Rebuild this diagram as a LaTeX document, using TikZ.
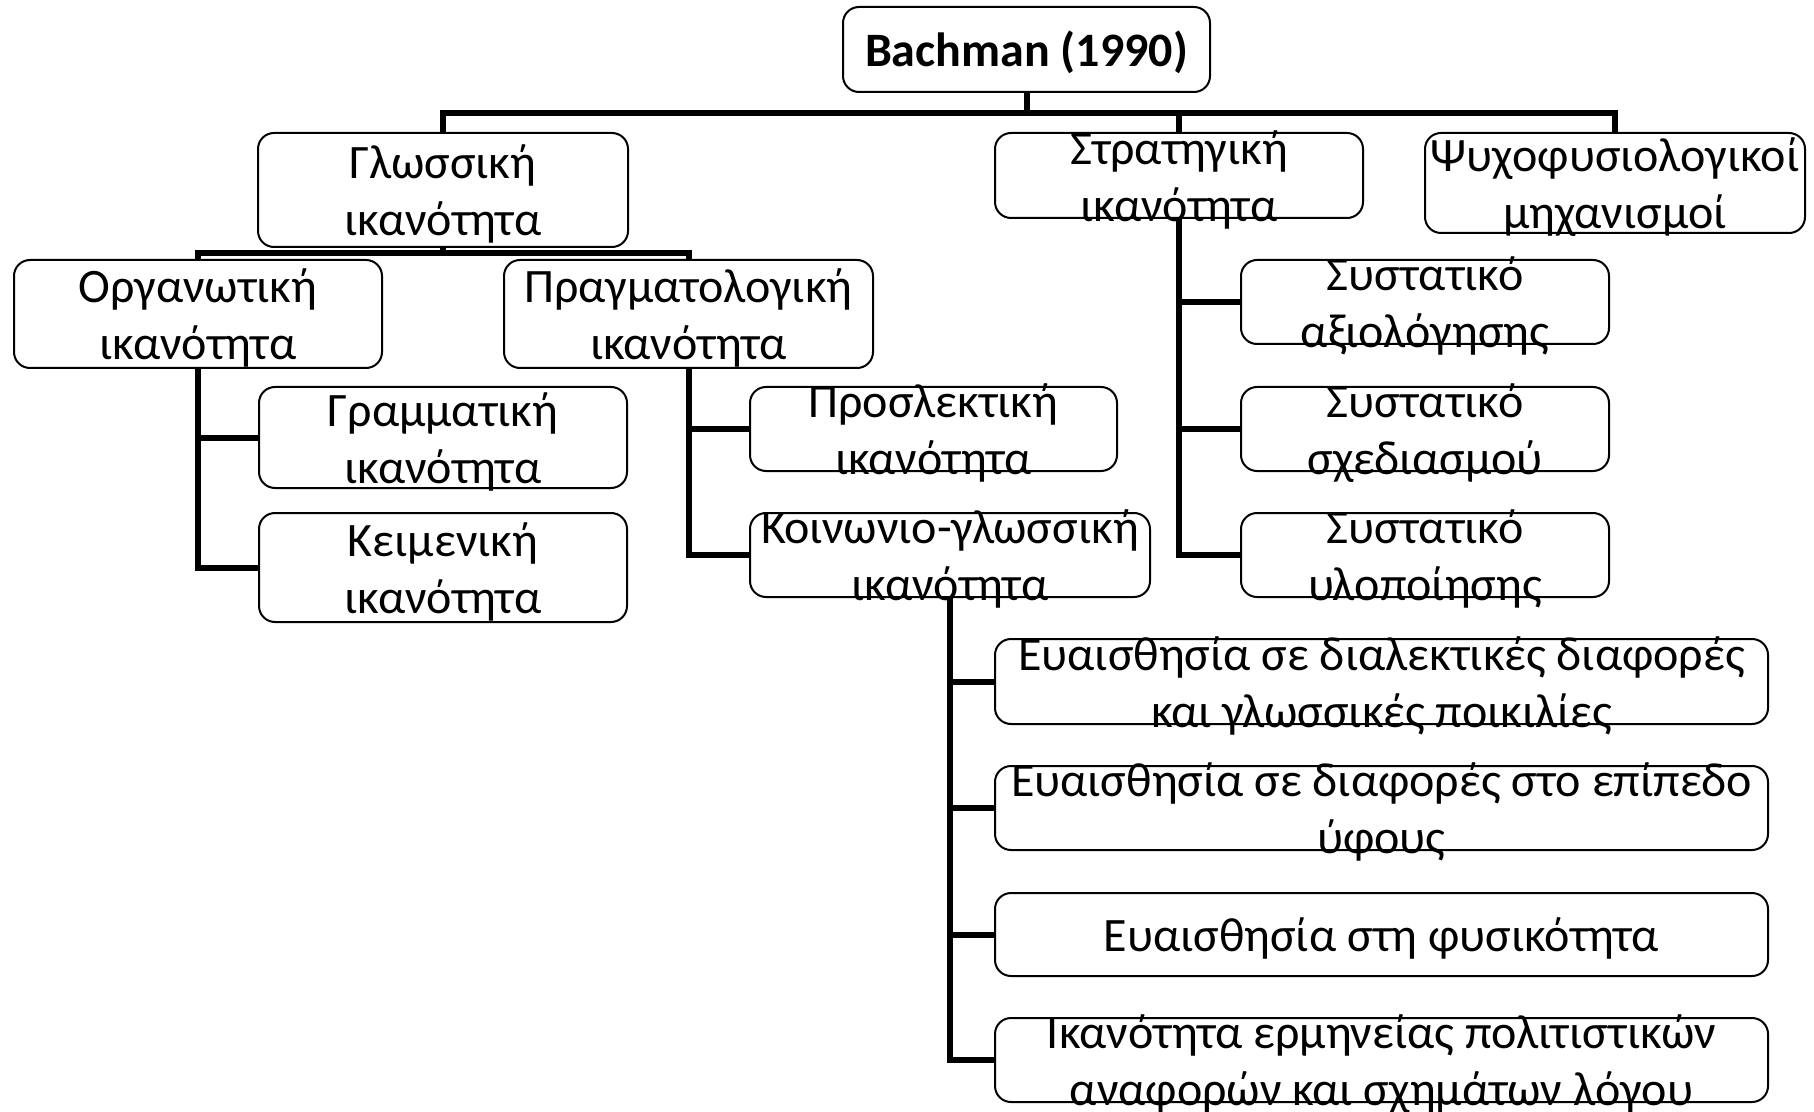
\documentclass[tikz,border=0pt]{standalone}
\usepackage{fontspec}
\setmainfont{Carlito}
\usetikzlibrary{fit}
\tikzset{
  x=0.5pt, y=-0.5pt,
  box/.style={draw, line width=1pt, rounded corners=8pt, fill=white,
    inner sep=0pt, outer sep=0pt},
  conn/.style={line width=3pt, line join=miter},
  lbl/.style={inner sep=0pt, align=center, yshift=-2.9pt},
  bodytxt/.style={lbl, font=\fontsize{24pt}{28.5pt}\selectfont},
  headtxt/.style={lbl, font=\bfseries\fontsize{24pt}{28.5pt}\selectfont},
}
\begin{document}
\begin{tikzpicture}
\useasboundingbox (0,0) rectangle (1814,1112);

% boxes
\node[box, fit={(843,7) (1210,92)}]     (bach) {};
\node[box, fit={(258,133) (628,247)}]   (glo)  {};
\node[box, fit={(995,133) (1363,218)}]  (str)  {};
\node[box, fit={(1425,133) (1805,233)}] (psy)  {};
\node[box, fit={(14,260) (382,368)}]    (org)  {};
\node[box, fit={(504,260) (873,368)}]   (prag) {};
\node[box, fit={(259,387) (627,488)}]   (gram) {};
\node[box, fit={(259,513) (627,622)}]   (keim) {};
\node[box, fit={(750,387) (1117,471)}]  (pros) {};
\node[box, fit={(750,513) (1150,597)}]  (koin) {};
\node[box, fit={(1241,260) (1609,344)}] (sys1) {};
\node[box, fit={(1241,387) (1609,471)}] (sys2) {};
\node[box, fit={(1241,513) (1609,597)}] (sys3) {};
\node[box, fit={(995,639) (1768,724)}]  (eua1) {};
\node[box, fit={(995,766) (1768,850)}]  (eua2) {};
\node[box, fit={(995,893) (1768,976)}]  (eua3) {};
\node[box, fit={(995,1018) (1768,1102)}] (eua4) {};

% connectors
\coordinate (bus1) at (1026.5,113);
\coordinate (bus2) at (443,253);
\draw[conn] (bach.south) -- (bus1);
\draw[conn] (glo.north) |- (bus1) -| (psy.north);
\draw[conn] (str.north) -- (str.north |- bus1);

\draw[conn] (glo.south) -- (bus2);
\draw[conn] (org.north) |- (bus2) -| (prag.north);

\draw[conn] (org.south) |- (keim.west);
\draw[conn] (org.south |- gram.west) -- (gram.west);

\draw[conn] (prag.south) |- (koin.west);
\draw[conn] (prag.south |- pros.west) -- (pros.west);

\draw[conn] (str.south) |- (sys3.west);
\draw[conn] (str.south |- sys1.west) -- (sys1.west);
\draw[conn] (str.south |- sys2.west) -- (sys2.west);

\draw[conn] (koin.south) |- (eua4.west);
\draw[conn] (koin.south |- eua1.west) -- (eua1.west);
\draw[conn] (koin.south |- eua2.west) -- (eua2.west);
\draw[conn] (koin.south |- eua3.west) -- (eua3.west);

% labels
\node[headtxt] (bach-t) at (bach) {\strut Bachman (1990)};
\node[bodytxt] (glo-t)  at (glo)  {\strut Γλωσσική\\\strut ικανότητα};
\node[bodytxt] (str-t)  at (str)  {\strut Στρατηγική\\\strut ικανότητα};
\node[bodytxt] (psy-t)  at (psy)  {\strut Ψυχοφυσιολογικοί\\\strut μηχανισμοί};
\node[bodytxt] (org-t)  at (org)  {\strut Οργανωτική\\\strut ικανότητα};
\node[bodytxt] (prag-t) at (prag) {\strut Πραγματολογική\\\strut ικανότητα};
\node[bodytxt] (gram-t) at (gram) {\strut Γραμματική\\\strut ικανότητα};
\node[bodytxt] (keim-t) at (keim) {\strut Κειμενική\\\strut ικανότητα};
\node[bodytxt] (pros-t) at (pros) {\strut Προσλεκτική\\\strut ικανότητα};
\node[bodytxt] (koin-t) at (koin) {\strut Κοινωνιο-γλωσσική\\\strut ικανότητα};
\node[bodytxt] (sys1-t) at (sys1) {\strut Συστατικό\\\strut αξιολόγησης};
\node[bodytxt] (sys2-t) at (sys2) {\strut Συστατικό\\\strut σχεδιασμού};
\node[bodytxt] (sys3-t) at (sys3) {\strut Συστατικό\\\strut υλοποίησης};
\node[bodytxt] (eua1-t) at (eua1) {\strut Ευαισθησία σε διαλεκτικές διαφορές\\\strut και γλωσσικές ποικιλίες};
\node[bodytxt] (eua2-t) at (eua2) {\strut Ευαισθησία σε διαφορές στο επίπεδο\\\strut ύφους};
\node[bodytxt] (eua3-t) at (eua3) {\strut Ευαισθησία στη φυσικότητα};
\node[bodytxt] (eua4-t) at (eua4) {\strut Ικανότητα ερμηνείας πολιτιστικών\\\strut αναφορών και σχημάτων λόγου};
\end{tikzpicture}
\end{document}
